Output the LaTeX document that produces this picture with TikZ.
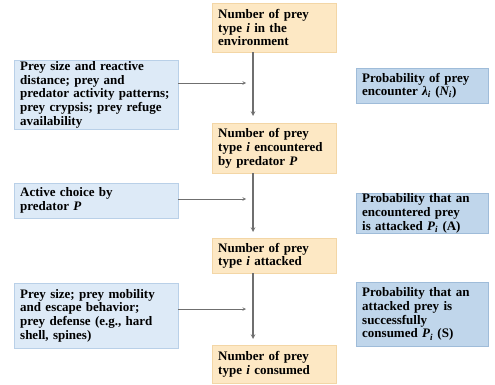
\documentclass[tikz,border=0pt]{standalone}
\usepackage{fontspec}
\setmainfont{Liberation Serif}
\usetikzlibrary{arrows}
\definecolor{countfill}{HTML}{FDE8C4}
\definecolor{countline}{HTML}{F3D6A6}
\definecolor{factorfill}{HTML}{DDEAF7}
\definecolor{factorline}{HTML}{B9D0E8}
\definecolor{probfill}{HTML}{C0D6EB}
\definecolor{probline}{HTML}{9FBCD9}
\definecolor{flowline}{HTML}{6F6F6F}
\tikzset{
  box/.style={
    rectangle,
    anchor=north west,
    inner xsep=6pt,
    inner ysep=0.5pt,
    align=left,
    font=\fontsize{13}{13.7}\selectfont\bfseries
  },
  count box/.style={box, draw=countline, fill=countfill, minimum width=124pt, text width=112pt},
  factor box/.style={box, draw=factorline, fill=factorfill, minimum width=164pt, text width=152pt},
  prob box/.style={box, draw=probline, fill=probfill, minimum width=132pt, text width=120pt},
  flow/.style={
    >=stealth,
    draw=flowline
  }
}

\begin{document}
\begin{tikzpicture}[x=1pt,y=-1pt]
\useasboundingbox (0,0) rectangle (495,385);
% central chain
\node (env) at (212,3) [count box,minimum height=49pt] {Number of prey\\type \textit{i} in the\\environment};
\node (enc) at (212,123) [count box,minimum height=50pt] {Number of prey\\type \textit{i} encountered\\by predator \textit{P}};
\node (att) at (212,238) [count box,minimum height=35pt] {Number of prey\\type \textit{i} attacked};
\node (con) at (212,345) [count box,minimum height=38pt] {Number of prey\\type \textit{i} consumed};
% factors
\node (size) at (14,60) [factor box,minimum height=69pt] {Prey size and reactive\\distance; prey and\\predator activity patterns;\\prey crypsis; prey refuge\\availability};
\node (choice) at (14,183) [factor box,minimum height=35pt] {Active choice by\\predator \textit{P}};
\node (defense) at (14,283) [factor box,minimum height=65pt] {Prey size; prey mobility\\and escape behavior;\\prey defense (e.g., hard\\shell, spines)};
% probabilities
\node (penc) at (356,68) [prob box,minimum height=35pt] {Probability of prey\\encounter \textit{λ\textsubscript{i}} (\textit{N\textsubscript{i}})};
\node (patt) at (356,193) [prob box,minimum height=34pt] {Probability that an\\encountered prey\\is attacked \textit{P\textsubscript{i}} (A)};
\node (pcon) at (356,282) [prob box,minimum height=64pt] {Probability that an\\attacked prey is\\successfully\\consumed \textit{P\textsubscript{i}} (S)};
% joins on the spine
\coordinate (j1) at (253,83);
\coordinate (j2) at (253,199);
\coordinate (j3) at (253,309);
\draw [flow,->,line width=1.1pt,shorten >=7pt] (env.south -| j1) -- (enc.north -| j1);
\draw [flow,->,line width=1.1pt,shorten >=6pt] (enc.south -| j2) -- (att.north -| j2);
\draw [flow,->,line width=1.1pt,shorten >=6pt] (att.south -| j3) -- (con.north -| j3);
\draw [flow,->,line width=0.6pt,shorten >=7pt] (size.east |- j1) -- (j1);
\draw [flow,->,line width=0.6pt,shorten >=7pt] (choice.east |- j2) -- (j2);
\draw [flow,->,line width=0.6pt,shorten >=7pt] (defense.east |- j3) -- (j3);
\end{tikzpicture}
\end{document}
